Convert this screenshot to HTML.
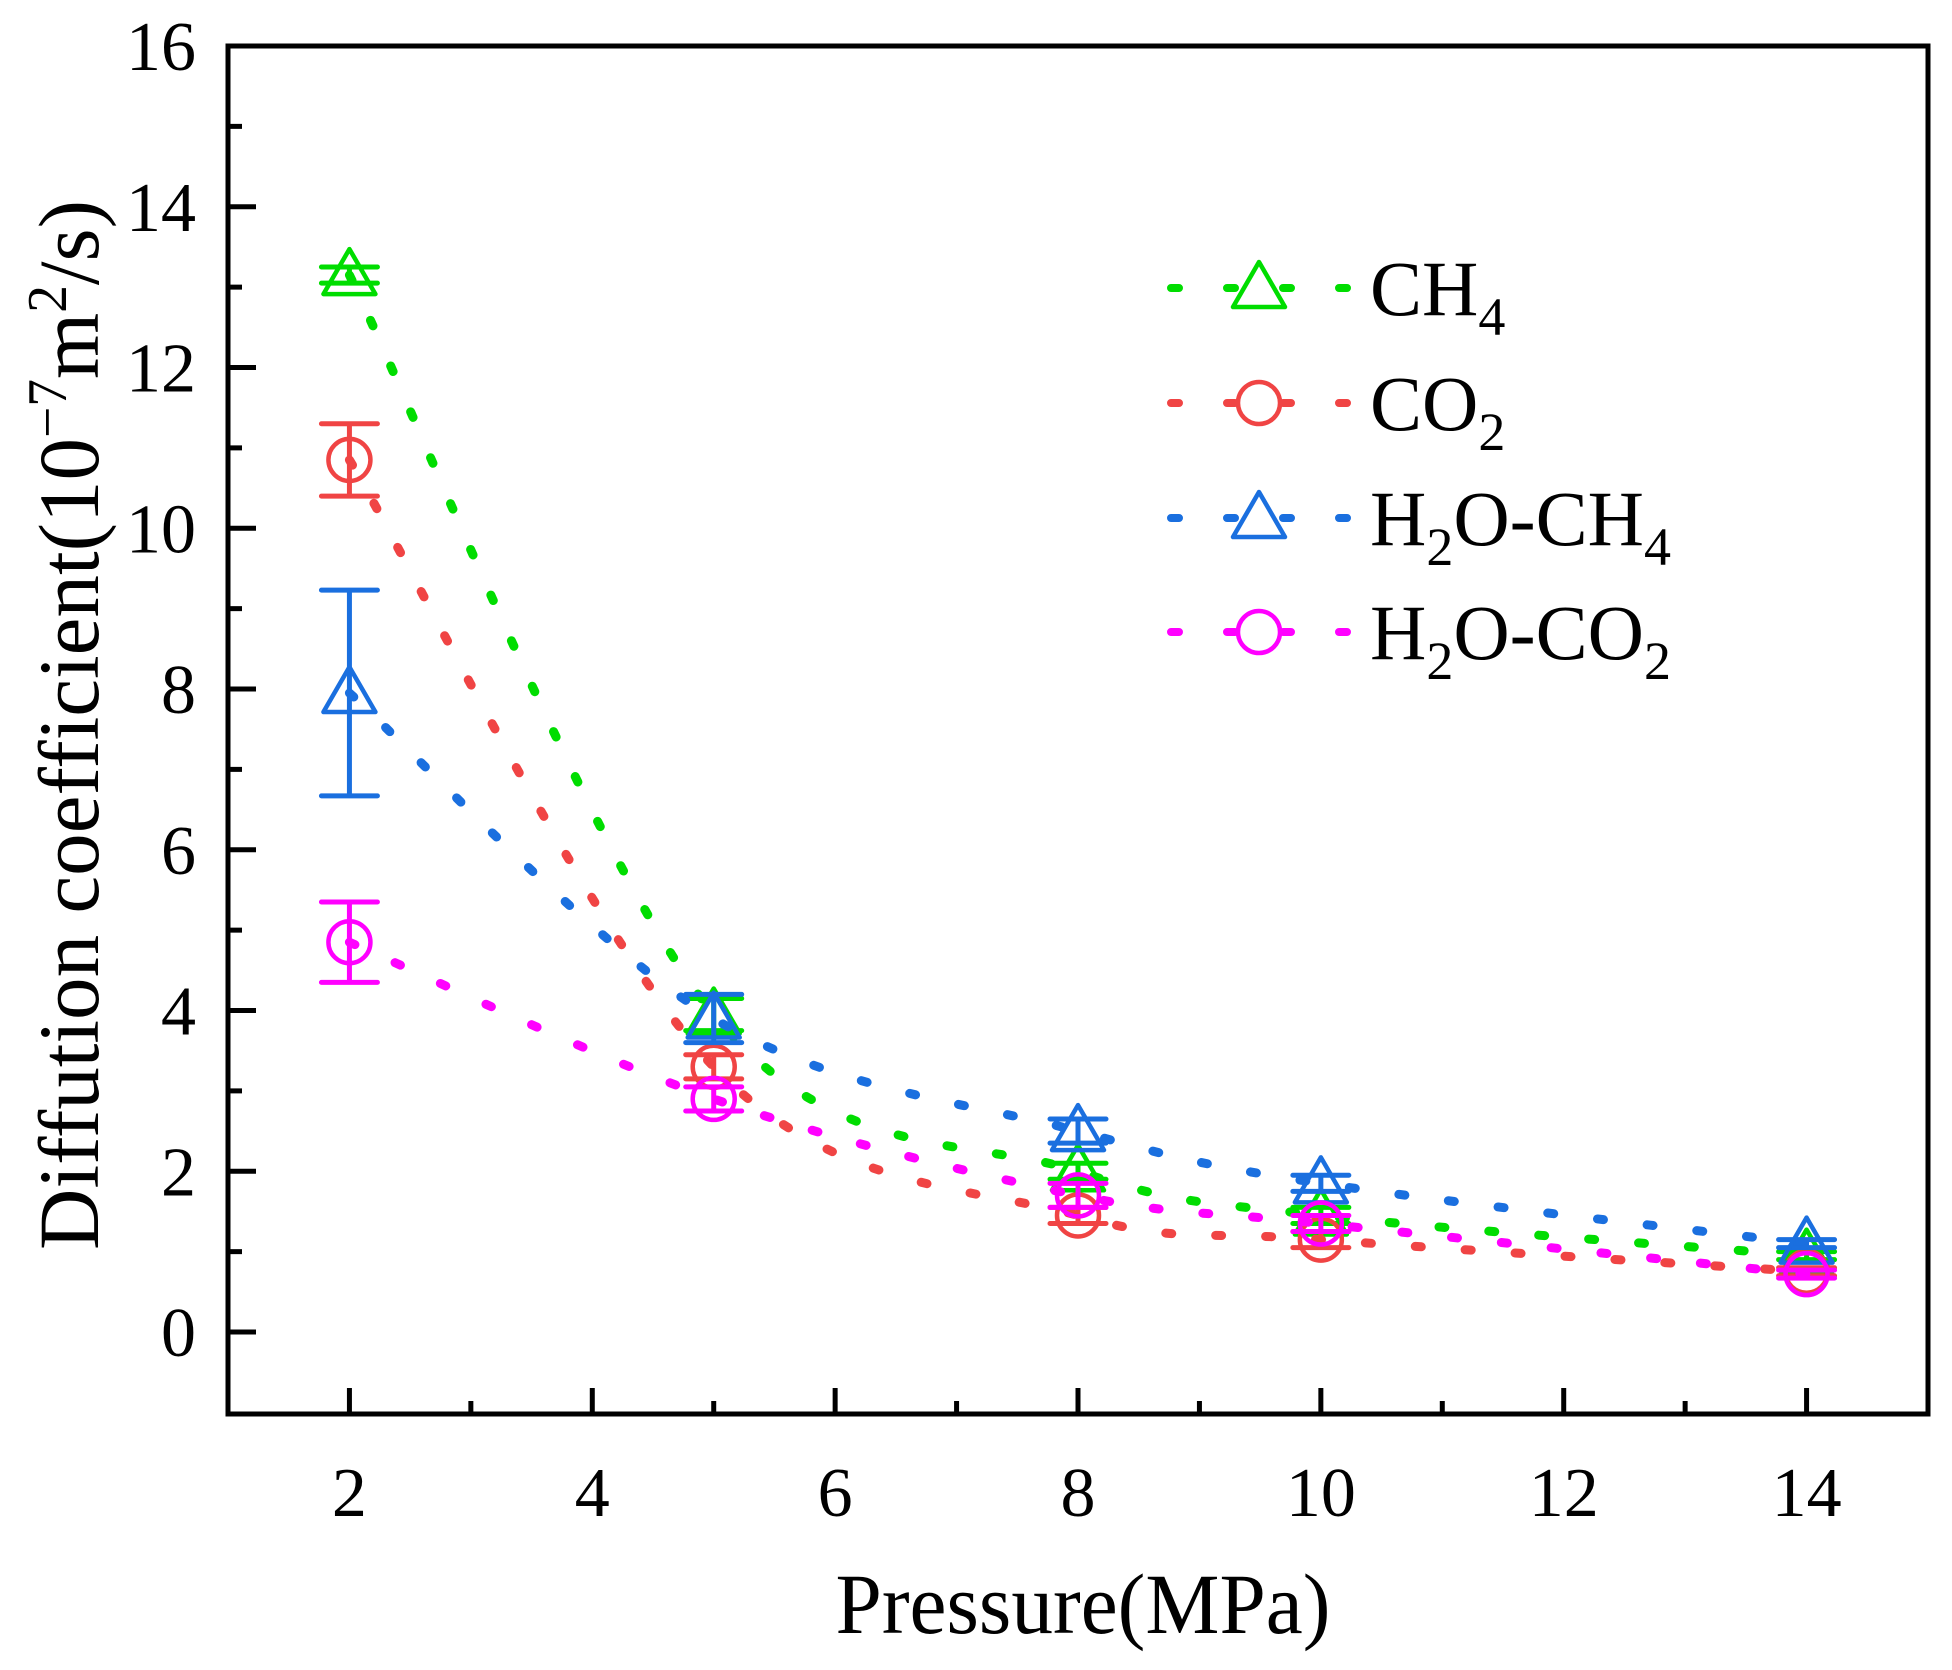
<!DOCTYPE html>
<html><head><meta charset="utf-8"><style>
html,body{margin:0;padding:0;background:#fff;}
svg{display:block;font-family:"Liberation Serif",serif;}
</style></head><body>
<svg id="chart" width="1952" height="1670" viewBox="0 0 1952 1670" xmlns="http://www.w3.org/2000/svg">
<rect x="0" y="0" width="1952" height="1670" fill="#fff"/>
<g id="series-layer"></g>
<g id="axes-layer"></g>
<g id="legend-layer"></g>
<text transform="translate(98,725) rotate(-90)" text-anchor="middle" font-size="86" textLength="1050" lengthAdjust="spacingAndGlyphs">Diffution coefficient(10<tspan font-size="56" dy="-32">−7</tspan><tspan dy="32">m</tspan><tspan font-size="56" dy="-32">2</tspan><tspan dy="32">/s)</tspan></text>
<text x="1083" y="1633" text-anchor="middle" font-size="86" textLength="495" lengthAdjust="spacingAndGlyphs">Pressure(MPa)</text>
</svg>
<script>
const pressures = [2, 5, 8, 10, 14];
const ch4 = [13.15, 3.95, 2.0, 1.45, 0.95];
const ch4Err = [0.1, 0.2, 0.1, 0.1, 0.05];
const co2 = [10.85, 3.3, 1.45, 1.15, 0.75];
const co2Err = [0.45, 0.15, 0.1, 0.1, 0.05];
const h2oCh4 = [7.95, 3.9, 2.5, 1.85, 1.1];
const h2oCh4Err = [1.28, 0.3, 0.15, 0.1, 0.05];
const h2oCo2 = [4.85, 2.9, 1.7, 1.35, 0.72];
const h2oCo2Err = [0.5, 0.15, 0.15, 0.1, 0.05];
const xTicks = [2, 4, 6, 8, 10, 12, 14];
const yTicks = [0, 2, 4, 6, 8, 10, 12, 14, 16];

const NS = "http://www.w3.org/2000/svg";
const L = 228, R = 1928, T = 46, B = 1414;
const xMin = 1, xMax = 15, yMin = -1.02, yMax = 16;
function xs(v){ return L + (v - xMin) / (xMax - xMin) * (R - L); }
function ys(v){ return B - (v - yMin) / (yMax - yMin) * (B - T); }
function mk(tag, attrs, parent){ const e = document.createElementNS(NS, tag); for (const k in attrs) e.setAttribute(k, attrs[k]); parent.appendChild(e); return e; }

const series = [
  {name:"ch4", label:["CH","4",""], vals:ch4, err:ch4Err, color:"#00dd00", shape:"tri"},
  {name:"co2", label:["CO","2",""], vals:co2, err:co2Err, color:"#f04444", shape:"circ"},
  {name:"h2o-ch4", label:["H","2","O-CH","4"], vals:h2oCh4, err:h2oCh4Err, color:"#1a6fdf", shape:"tri"},
  {name:"h2o-co2", label:["H","2","O-CO","2"], vals:h2oCo2, err:h2oCo2Err, color:"#ff00ff", shape:"circ"}
];

function curvePath(px, py){
  let d = "M" + px[0] + "," + py[0];
  for (let i = 0; i < px.length - 1; i++){
    const x0 = px[Math.max(i-1,0)], y0 = py[Math.max(i-1,0)];
    const x1 = px[i], y1 = py[i], x2 = px[i+1], y2 = py[i+1];
    const x3 = px[Math.min(i+2,px.length-1)], y3 = py[Math.min(i+2,px.length-1)];
    const c1x = x1 + (x2 - x0)/6, c1y = y1 + (y2 - y0)/6;
    const c2x = x2 - (x3 - x1)/6, c2y = y2 - (y3 - y1)/6;
    d += " C" + c1x + "," + c1y + " " + c2x + "," + c2y + " " + x2 + "," + y2;
  }
  return d;
}
function marker(shape, cx, cy, color, parent){
  let e;
  if (shape === "tri"){
    e = mk("polygon", {points:(cx)+","+(cy-26)+" "+(cx-26)+","+(cy+19)+" "+(cx+26)+","+(cy+19), fill:"none", stroke:color, "stroke-width":4.5, "stroke-linejoin":"round"}, parent);
  } else {
    e = mk("circle", {cx:cx, cy:cy, r:21, fill:"none", stroke:color, "stroke-width":4.5}, parent);
  }
  return e;
}

const sl = document.getElementById("series-layer");
series.forEach(s => {
  const g = mk("g", {}, sl);
  
  
  const px = pressures.map(xs), py = s.vals.map(ys);
  const line = mk("path", {d:curvePath(px, py), fill:"none", stroke:s.color, "stroke-width":9, "stroke-linecap":"round", "stroke-dasharray":"6 44"}, g);
  
  
  pressures.forEach((p, i) => {
    const cx = xs(p), yt = ys(s.vals[i] + s.err[i]), yb = ys(s.vals[i] - s.err[i]);
    const eb = mk("path", {d:"M"+cx+","+yt+" V"+yb+" M"+(cx-28)+","+yt+" H"+(cx+28)+" M"+(cx-28)+","+yb+" H"+(cx+28), stroke:s.color, "stroke-width":5, "stroke-linecap":"round", fill:"none"}, g);
    
    
    const m = marker(s.shape, cx, ys(s.vals[i]), s.color, g);
    
    
  });
});

const ax = document.getElementById("axes-layer");
const frame = mk("rect", {x:L, y:T, width:R-L, height:B-T, fill:"none", stroke:"#000", "stroke-width":5}, ax);


for (let v = 2; v <= 14.01; v += 1){
  const major = xTicks.includes(v);
  const t = mk("line", {x1:xs(v), x2:xs(v), y1:B, y2:B-(major?26:13), stroke:"#000", "stroke-width":5}, ax);
  
  
}
xTicks.forEach(v => {
  const t = mk("text", {x:xs(v), y:B+102, "text-anchor":"middle", "font-size":70}, ax);
  t.textContent = v;
  
  
});
for (let v = 0; v <= 15.01; v += 1){
  const major = yTicks.includes(v);
  const t = mk("line", {x1:L, x2:L+(major?28:14), y1:ys(v), y2:ys(v), stroke:"#000", "stroke-width":5}, ax);
  
  
}
yTicks.forEach(v => {
  const t = mk("text", {x:L-32, y:ys(v)+24, "text-anchor":"end", "font-size":70}, ax);
  t.textContent = v;
  
  
});

const lg = document.getElementById("legend-layer");
const rowY = [288, 403, 518, 632];
series.forEach((s, i) => {
  const g = mk("g", {}, lg);
  
  
  const y = rowY[i];
  const ln = mk("path", {d:"M1171,"+y+" H1352", stroke:s.color, "stroke-width":8, "stroke-linecap":"round", "stroke-dasharray":"8 48", fill:"none"}, g);
  
  
  const m = marker(s.shape, 1259, y, s.color, g);
  
  
  const t = mk("text", {x:1370, y:y+27, "font-size":78}, g);
  
  
  const a = mk("tspan", {}, t); a.textContent = s.label[0];
  const b = mk("tspan", {"font-size":54, dy:20}, t); b.textContent = s.label[1];
  if (s.label[2]) { const c = mk("tspan", {dy:-20}, t); c.textContent = s.label[2]; }
  if (s.label[3]) { const d = mk("tspan", {"font-size":54, dy:20}, t); d.textContent = s.label[3]; }
});
</script>
</body></html>
